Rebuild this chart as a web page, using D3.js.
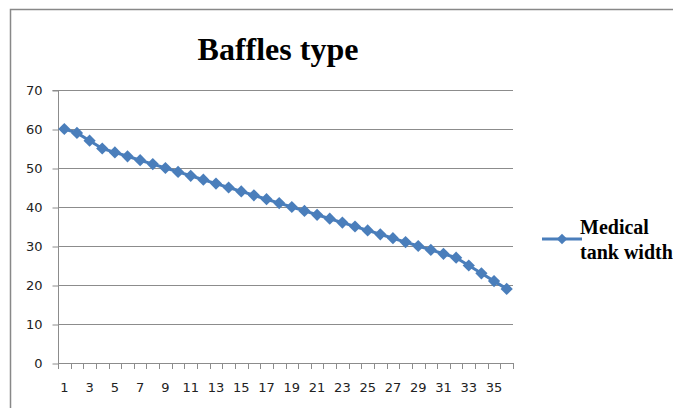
<!DOCTYPE html>
<html>
<head>
<meta charset="utf-8">
<script src="https://cdn.jsdelivr.net/npm/d3@7"></script>
<style>
  html, body { margin: 0; padding: 0; background: #fff; }
  svg { display: block; }
</style>
</head>
<body>
<svg id="chart" width="673" height="408"></svg>
<script>
(function () {
const categories = d3.range(1, 37);
const seriesName = "Medical tank width";
const values = [60, 59, 57, 55, 54, 53, 52, 51, 50, 49, 48, 47, 46, 45, 44, 43, 42, 41,
                40, 39, 38, 37, 36, 35, 34, 33, 32, 31, 30, 29, 28, 27, 25, 23, 21, 19];
const yTicks = [0, 10, 20, 30, 40, 50, 60, 70];
const xTickLabels = categories.filter(d => d % 2 === 1);
const title = "Baffles type";
const legendLines = ["Medical", "tank width"];

const svg = d3.select("#chart");
const pLeft = 58, pRight = 513, pTop = 90, pBottom = 363;

svg.append("rect").attr("x", 10.5).attr("y", 9.5).attr("width", 700).attr("height", 450)
  .attr("fill", "#fff").attr("stroke", "#888").attr("stroke-width", 1.5);

const x = d3.scaleBand().domain(categories).range([pLeft, pRight]).padding(0);
const y = d3.scaleLinear().domain([0, 70]).range([pBottom, pTop]);

// gridlines
svg.append("g").selectAll("line").data(yTicks.filter(d => d > 0)).join("line")
  .attr("x1", pLeft).attr("x2", pRight)
  .attr("y1", d => Math.round(y(d)) + 0.5).attr("y2", d => Math.round(y(d)) + 0.5)
  .attr("stroke", "#8c8c8c").attr("stroke-width", 1);

// y axis
const yAxis = d3.axisLeft(y).tickValues(yTicks).tickSize(6).tickPadding(10);
const gy = svg.append("g").attr("transform", `translate(${pLeft + 0.5},0.5)`).call(yAxis);
gy.select(".domain").attr("stroke", "#8c8c8c").attr("d", `M-6,${pTop}H0V${pBottom}`);
gy.selectAll(".tick line").attr("stroke", "#8c8c8c");
gy.selectAll(".tick text").attr("font-family", "DejaVu Sans, Verdana, sans-serif")
  .attr("font-size", 13).attr("fill", "#222");

// x axis
const xAxis = d3.axisBottom(x).tickValues(xTickLabels).tickSize(0).tickPadding(19);
const gx = svg.append("g").attr("transform", `translate(0,${pBottom + 0.5})`).call(xAxis);
gx.select(".domain").attr("stroke", "#8c8c8c").attr("d", `M${pLeft},0H${pRight}`);
gx.selectAll(".tick text").attr("font-family", "DejaVu Sans, Verdana, sans-serif")
  .attr("font-size", 13).attr("fill", "#222");
// category boundary tick marks
svg.append("g").selectAll("line").data(categories.concat(["end"])).join("line")
  .attr("x1", d => Math.round(d === "end" ? pRight : x(d)) + 0.5)
  .attr("x2", d => Math.round(d === "end" ? pRight : x(d)) + 0.5)
  .attr("y1", pBottom).attr("y2", pBottom + 6)
  .attr("stroke", "#8c8c8c").attr("stroke-width", 1);

// line
const color = "#4a7ebb";
const line = d3.line().x((d, i) => x(categories[i]) + x.bandwidth() / 2).y(d => y(d));
svg.append("path").datum(values).attr("d", line)
  .attr("fill", "none").attr("stroke", color).attr("stroke-width", 3).attr("stroke-linejoin", "round");

const diamond = d3.symbol().type(d3.symbolDiamond2).size(95);
svg.append("g").selectAll("path").data(values).join("path")
  .attr("d", diamond)
  .attr("transform", (d, i) => `translate(${x(categories[i]) + x.bandwidth() / 2},${y(d)})`)
  .attr("fill", color);

// title
svg.append("text").attr("x", 278).attr("y", 60).attr("text-anchor", "middle")
  .attr("font-family", "Liberation Serif, Times New Roman, serif").attr("font-weight", "bold")
  .attr("font-size", 32).attr("fill", "#000").text(title);

// legend
const lg = svg.append("g");
const legendDiamond = d3.symbol().type(d3.symbolDiamond2).size(70);
lg.append("line").attr("x1", 542).attr("x2", 582).attr("y1", 239).attr("y2", 239)
  .attr("stroke", color).attr("stroke-width", 3);
lg.append("path").attr("d", legendDiamond).attr("transform", "translate(562,239)").attr("fill", color);
lg.selectAll("text").data(legendLines).join("text")
  .attr("x", 580).attr("y", (d, i) => 234 + i * 25)
  .attr("font-family", "Liberation Serif, Times New Roman, serif").attr("font-weight", "bold")
  .attr("font-size", 20).attr("fill", "#000").text(d => d);
})();
</script>
</body>
</html>
